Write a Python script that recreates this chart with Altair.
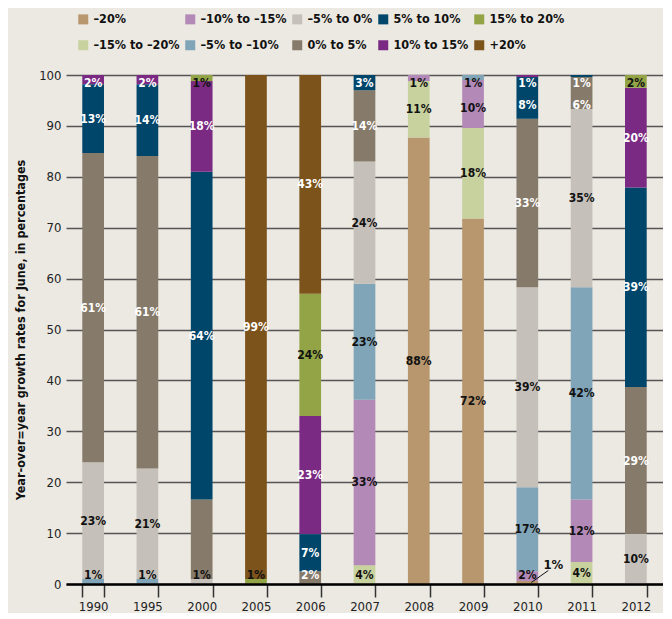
import altair as alt
import pandas as pd

years = ["1990", "1995", "2000", "2005", "2006", "2007", "2008", "2009", "2010", "2011", "2012"]

# stacking order, bottom to top (also legend order, filled column by column)
categories = ["–20%", "–15% to –20%", "–10% to –15%", "–5% to –10%", "–5% to 0%",
              "0% to 5%", "5% to 10%", "10% to 15%", "15% to 20%", "+20%"]
colors = ["#b8976e", "#c8d29e", "#b389b7", "#80a4b8", "#c5c0b9",
          "#867a6a", "#00466b", "#7b2a84", "#92a445", "#7c531b"]
light_ink = ["5% to 10%", "10% to 15%", "+20%", "0% to 5%"]

# values per category for each year (percent)
v_m20   = [0, 0, 0, 0, 0, 0, 87.7, 71.8, 0.6, 0, 0]
v_m15   = [0, 0, 0, 0, 0, 3.7, 11.1, 17.8, 0, 4.3, 0]
v_m10   = [0, 0, 0, 0, 0, 32.5, 1.2, 9.4, 1.9, 12.3, 0]
v_m5b   = [1.0, 1.0, 0, 0, 0, 22.8, 0, 1.0, 16.5, 41.7, 0]
v_m5    = [22.9, 21.7, 1.0, 0, 0, 24.0, 0, 0, 39.3, 35.0, 9.8]
v_p0    = [60.8, 61.4, 15.6, 0, 2.5, 14.0, 0, 0, 33.1, 6.3, 28.9]
v_p5    = [13.5, 14.1, 64.4, 0, 7.3, 3.0, 0, 0, 8.2, 0.4, 39.2]
v_p10   = [1.8, 1.8, 17.8, 0, 23.2, 0, 0, 0, 0.4, 0, 19.6]
v_p15   = [0, 0, 1.2, 1.0, 24.0, 0, 0, 0, 0, 0, 2.5]
v_p20   = [0, 0, 0, 99.0, 43.0, 0, 0, 0, 0, 0, 0]

# printed labels per category for each year
l_m20   = ["", "", "", "", "", "", "88%", "72%", "1%", "", ""]
l_m15   = ["", "", "", "", "", "4%", "11%", "18%", "", "4%", ""]
l_m10   = ["", "", "", "", "", "33%", "1%", "10%", "2%", "12%", ""]
l_m5b   = ["1%", "1%", "", "", "", "23%", "", "1%", "17%", "42%", ""]
l_m5    = ["23%", "21%", "1%", "", "", "24%", "", "", "39%", "35%", "10%"]
l_p0    = ["61%", "61%", "", "", "2%", "14%", "", "", "33%", "6%", "29%"]
l_p5    = ["13%", "14%", "64%", "", "7%", "3%", "", "", "8%", "1%", "39%"]
l_p10   = ["2%", "2%", "18%", "", "23%", "", "", "", "1%", "", "20%"]
l_p15   = ["", "", "1%", "1%", "24%", "", "", "", "", "", "2%"]
l_p20   = ["", "", "", "99%", "43%", "", "", "", "", "", ""]

values = [v_m20, v_m15, v_m10, v_m5b, v_m5, v_p0, v_p5, v_p10, v_p15, v_p20]
labels = [l_m20, l_m15, l_m10, l_m5b, l_m5, l_p0, l_p5, l_p10, l_p15, l_p20]

# callout drawn with a leader line instead of inside the bar
callout_year = "2010"
callout_cat = "–20%"

rows = []
for rank, (cat, vals, labs) in enumerate(zip(categories, values, labels)):
    for yr, v, lab in zip(years, vals, labs):
        if v > 0:
            rows.append({"year": yr, "category": cat, "rank": rank, "value": v,
                         "label": lab,
                         "callout": (yr == callout_year and cat == callout_cat)})
df = pd.DataFrame(rows)

FONT = "'Noto Sans Condensed', 'DejaVu Sans Condensed', sans-serif"

ink_list = "[" + ",".join('"%s"' % c for c in light_ink) + "]"

base = alt.Chart(df).transform_stack(
    stack="value", groupby=["year"], sort=[alt.SortField("rank", order="ascending")],
    as_=["y0", "y1"]
).transform_window(
    next_val="lead(value)", groupby=["year"], sort=[alt.SortField("rank", order="ascending")]
).transform_calculate(
    mid="(datum.y0 + datum.y1) / 2",
    ypos="min(max(datum.next_val != null && datum.next_val < 1.5 ? min((datum.y0 + datum.y1) / 2, datum.y1 - 5.5) : (datum.y0 + datum.y1) / 2, 1.7), 98.4)",
    ink="indexof(%s, datum.category) >= 0 ? 'light' : 'dark'" % ink_list
)

xenc = alt.X("year:N", sort=years,
             scale=alt.Scale(paddingInner=0.6, paddingOuter=0.3),
             axis=alt.Axis(title=None, tickBand="extent", tickSize=13, tickColor="#333",
                           tickWidth=1.5, domainColor="#000", domainWidth=2.5,
                           labelPadding=3, labelFont=FONT, labelFontSize=13,
                           labelAngle=0, labelColor="#222", zindex=1))

yscale = alt.Scale(domain=[0, 100], nice=False)

bars = base.mark_bar().encode(
    x=xenc,
    y=alt.Y("y0:Q", scale=yscale,
            axis=alt.Axis(values=list(range(0, 101, 10)), grid=True, gridColor="#555",
                          gridWidth=1.5, domain=False, ticks=False, labelPadding=5,
                          labelFont=FONT, labelFontSize=13, labelColor="#222",
                          title="Year-over=year growth rates for June, in percentages",
                          titleFont=FONT, titleFontSize=12.5, titleFontWeight="bold",
                          titleColor="#111", titlePadding=11)),
    y2="y1:Q",
    color=alt.Color("category:N",
                    scale=alt.Scale(domain=categories, range=colors),
                    legend=alt.Legend(title=None, orient="none", legendX=11, legendY=-62,
                                      columns=5, symbolType="square", symbolSize=100,
                                      symbolStrokeWidth=0, labelFont=FONT,
                                      labelFontSize=12.5, labelFontWeight="bold",
                                      labelColor="#111", columnPadding=4, rowPadding=13,
                                      labelOffset=4, labelLimit=200)),
)

text = base.transform_filter("datum.label != '' && !datum.callout").mark_text(
    font=FONT, fontSize=12, fontWeight="bold", baseline="middle"
).encode(
    x=alt.X("year:N", sort=years),
    y=alt.Y("ypos:Q", scale=yscale),
    text="label:N",
    color=alt.Color("ink:N", scale=alt.Scale(domain=["light", "dark"], range=["#ffffff", "#111111"]),
                    legend=None),
)

callout_text = base.transform_filter("datum.callout").mark_text(
    font=FONT, fontSize=13, fontWeight="bold", baseline="middle", dx=26, dy=-17, color="#111"
).encode(
    x=alt.X("year:N", sort=years),
    y=alt.Y("mid:Q", scale=yscale),
    text="label:N",
)

callout_line = base.transform_filter("datum.callout").mark_rule(
    color="#111", strokeWidth=1, xOffset=4, x2Offset=21, y2Offset=-12
).encode(
    x=alt.X("year:N", sort=years),
    x2="year:N",
    y=alt.Y("mid:Q", scale=yscale),
    y2="mid:Q",
)

chart = alt.layer(bars, text, callout_line, callout_text).resolve_scale(
    color="independent"
).properties(
    width=597, height=509, background="#ece9e2",
    padding={"left": 6, "top": 5, "right": 0, "bottom": 0}
).configure_view(stroke=None)

chart.save("out.html", embed_options={"renderer": "svg", "actions": False})
